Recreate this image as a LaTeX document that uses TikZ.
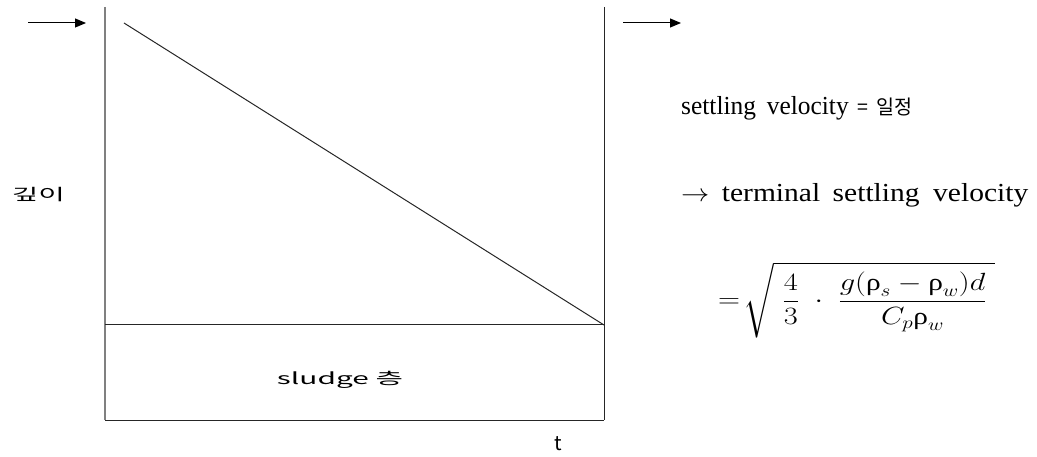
\documentclass[tikz,border=0pt]{standalone}
\usepackage{amsmath}
\usepackage{graphicx}
\usepackage{fontspec}
\setmainfont{Liberation Serif}
\newfontfamily\krsans{Noto Sans CJK KR}
\usetikzlibrary{arrows.meta}
\tikzset{
  wall/.style={line width=1pt, draw=black!85},
  grayline/.style={line width=1.4pt, draw=black!50},
  flow/.style={line width=1pt, -{Triangle[length=11pt,width=9pt]}},
  krlabel/.style={font=\krsans\fontsize{16}{18}\selectfont, inner sep=0pt},
  serlabel/.style={font=\fontsize{26}{30}\selectfont, inner sep=0pt, anchor=base west},
}
\begin{document}
\begin{tikzpicture}[x=1pt,y=-1pt]
\useasboundingbox (0,0) rectangle (1037,457);
% tank
\coordinate (tl) at (105,7);
\coordinate (bl) at (105,420);
\coordinate (tr) at (604,7);
\coordinate (br) at (604,420);
\coordinate (sl) at (105,325);
\coordinate (sr) at (604,325);
\coordinate (d0) at (124,23);
\draw[grayline] (tl) -- (bl);
\draw[wall] (tr) -- (br);
\draw[wall] (bl) -- (br);
\draw[wall] (sl) -- (sr);
\draw[wall] (d0) -- (sr);
% arrows
\coordinate (a1s) at (28,23); \coordinate (a1e) at (86,23);
\coordinate (a2s) at (623,23); \coordinate (a2e) at (681,23);
\draw[flow] (a1s) -- (a1e);
\draw[flow] (a2s) -- (a2e);
% labels
\node[krlabel] (depth) at (38.5,195) {\resizebox{53pt}{\height}{깊이}};
\node[krlabel] (sludge) at (340,380) {\resizebox{126pt}{\height}{sludge 층}};
\node[krlabel, font=\krsans\fontsize{20}{22}\selectfont] (t) at (558,444) {t};
\node[serlabel] (sv) at (681,115) {\resizebox{231pt}{\height}{settling\hspace{11pt}velocity\hspace{9pt}{\krsans\fontsize{20}{24}\selectfont =\hspace{8pt}일정}}};
\node[serlabel] (tsv) at (681,202) {\resizebox{347pt}{\height}{$\rightarrow$\hspace{11pt}terminal\hspace{11pt}settling\hspace{12pt}velocity}};
\node[inner sep=0pt, anchor=west, font=\fontsize{24}{28}\selectfont] (eq) at (718,300)
  {\resizebox{277pt}{\height}{$=\!\sqrt{\;\dfrac{4}{3}\;\cdot\;\dfrac{g(\text{ρ}_s-\text{ρ}_w)d}{C_p\text{ρ}_w}\;}$}};
\end{tikzpicture}
\end{document}
